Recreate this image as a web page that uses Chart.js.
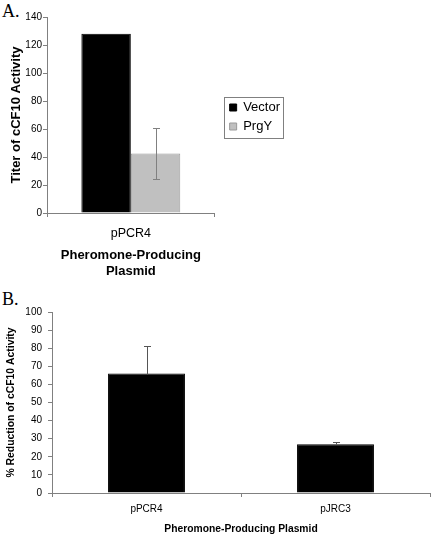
<!DOCTYPE html>
<html><head><meta charset="utf-8">
<script src="https://cdn.jsdelivr.net/npm/chart.js@4.4.1/dist/chart.umd.min.js"></script>
<style>
html,body{margin:0;padding:0;background:#fff;width:432px;height:535px;overflow:hidden;position:relative}
canvas{position:absolute;left:0}
#cA{top:0}
#cB{top:295px}
.lab{position:absolute;left:2px;font-family:'Liberation Serif','Times New Roman',serif;font-size:18px;line-height:18px;color:#000}
</style></head><body>
<div class="lab" style="top:2px">A.</div>
<div class="lab" style="top:290px">B.</div>
<canvas id="cA" width="300" height="285"></canvas>
<canvas id="cB" width="432" height="240"></canvas>
<script>
// ---------- Panel A data ----------
const panelACategories = ['pPCR4'];
const panelASeries = ['Vector', 'PrgY'];
const vectorTiter = [128];
const prgYTiter = [42.5];
const prgYTiterError = [18.5];
const panelAYTickValues = [0, 20, 40, 60, 80, 100, 120, 140];
const panelAYTitle = 'Titer of cCF10 Activity';
const panelAXTitle = ['Pheromone-Producing', 'Plasmid'];

// ---------- Panel B data ----------
const panelBCategories = ['pPCR4', 'pJRC3'];
const reductionPercent = [66, 27];
const reductionError = [15, 1.3];
const panelBYTickValues = [0, 10, 20, 30, 40, 50, 60, 70, 80, 90, 100];
const panelBYTitle = '% Reduction of cCF10 Activity';
const panelBXTitle = 'Pheromone-Producing Plasmid';

const FONT = "'Liberation Sans', Arial, Helvetica, sans-serif";
const AXIS_GRAY = '#808080';

const errorBarPlugin = {
  id: 'errorBars',
  afterDatasetsDraw(chart) {
    const ctx = chart.ctx;
    const yScale = chart.scales.y;
    chart.data.datasets.forEach((ds, di) => {
      if (!ds.errors) return;
      const meta = chart.getDatasetMeta(di);
      meta.data.forEach((bar, i) => {
        const e = ds.errors[i];
        if (e == null) return;
        const v = ds.data[i];
        const x = Math.round(bar.x) + 0.5;
        const yTop = Math.round(yScale.getPixelForValue(v + e)) + 0.5;
        const yBot = Math.round(yScale.getPixelForValue(ds.errorPlusOnly ? v : v - e)) + 0.5;
        const cap = ds.errorCapHalf || 3.5;
        ctx.save();
        ctx.strokeStyle = ds.errorColor || '#808080';
        ctx.lineWidth = 1;
        ctx.beginPath();
        ctx.moveTo(x, yTop); ctx.lineTo(x, yBot);
        ctx.moveTo(x - cap, yTop); ctx.lineTo(x + cap, yTop);
        if (!ds.errorPlusOnly) { ctx.moveTo(x - cap, yBot); ctx.lineTo(x + cap, yBot); }
        ctx.stroke();
        ctx.restore();
      });
    });
  }
};

const legendBoxPlugin = {
  id: 'legendBox',
  afterLayout(chart, args, opts) {
    const lg = chart.legend;
    if (!lg || !opts.enabled) return;
    const w = lg.width;
    lg.left = chart.chartArea.right + opts.dx;
    lg.right = lg.left + w;
    lg.top = chart.chartArea.top + opts.dy;
    lg.bottom = lg.top + 80;
  },
  afterDraw(chart, args, opts) {
    const lg = chart.legend;
    if (!lg || !opts.enabled || !lg.legendHitBoxes || !lg.legendHitBoxes.length) return;
    const hb = lg.legendHitBoxes;
    let l = Infinity, t = Infinity, r = -Infinity, b = -Infinity;
    hb.forEach(h => { l = Math.min(l, h.left); t = Math.min(t, h.top); r = Math.max(r, h.left + h.width); b = Math.max(b, h.top + h.height); });
    const ctx = chart.ctx;
    ctx.save();
    ctx.strokeStyle = AXIS_GRAY;
    ctx.lineWidth = 1;
    ctx.strokeRect(Math.round(l - 6) + 0.5, Math.round(t - 4.5) + 0.5, Math.round(r - l + 9), Math.round(b - t + 9));
    ctx.restore();
  }
};

function yScaleOpts(ticks, title, o) {
  return {
    min: ticks[0], max: ticks[ticks.length - 1],
    afterBuildTicks(scale) { scale.ticks = ticks.map(v => ({ value: v })); },
    afterFit(scale) { scale.width = o.width; },
    grid: { display: true, drawOnChartArea: false, drawTicks: true, tickLength: 4, color: AXIS_GRAY, tickColor: AXIS_GRAY },
    border: { display: true, color: AXIS_GRAY, width: 1 },
    ticks: { color: '#000', font: { family: FONT, size: o.tickSize }, padding: o.tickPad },
    title: { display: true, text: title, color: '#000', font: { family: FONT, size: o.titleSize, weight: 'bold' }, padding: { top: o.titlePad, bottom: 0 } }
  };
}

function xScaleOpts(title, o) {
  return {
    offset: true,
    afterFit(scale) { scale.height = o.height; },
    grid: { display: true, offset: true, drawOnChartArea: false, drawTicks: true, tickLength: 4, color: AXIS_GRAY, tickColor: AXIS_GRAY },
    border: { display: true, color: AXIS_GRAY, width: 1 },
    ticks: { color: '#000', font: { family: FONT, size: o.tickSize }, padding: o.tickPad, maxRotation: 0, autoSkip: false },
    title: { display: true, text: title, color: '#000', font: { family: FONT, size: o.titleSize, weight: 'bold', lineHeight: o.titleLH || 1.2 }, padding: { top: 0, bottom: o.titlePadB } }
  };
}

Chart.defaults.font.family = FONT;

new Chart(document.getElementById('cA'), {
  type: 'bar',
  data: {
    labels: panelACategories,
    datasets: [
      { label: panelASeries[0], data: vectorTiter, backgroundColor: '#000000', borderColor: '#000000', borderWidth: 1,
        categoryPercentage: 0.59, barPercentage: 1.0 },
      { label: panelASeries[1], data: prgYTiter, backgroundColor: '#c0c0c0', borderColor: '#9a9a9a', borderWidth: 1,
        categoryPercentage: 0.59, barPercentage: 1.0,
        errors: prgYTiterError, errorColor: '#808080', errorCapHalf: 3.5 }
    ]
  },
  options: {
    responsive: false, animation: false, devicePixelRatio: 1,
    layout: { padding: { top: 17, left: 0, right: 19, bottom: 0 } },
    scales: {
      x: xScaleOpts(panelAXTitle, { height: 72, tickSize: 12.5, tickPad: 9, titleSize: 13, titleLH: 1.25, titlePadB: 5 }),
      y: yScaleOpts(panelAYTickValues, panelAYTitle, { width: 47, tickSize: 10, tickPad: 1, titleSize: 13, titlePad: 9 })
    },
    plugins: {
      legend: {
        display: true, position: 'right', align: 'start',
        labels: { boxWidth: 7, boxHeight: 7, padding: 6, color: '#000', font: { family: FONT, size: 13 } }
      },
      legendBox: { enabled: true, dx: 9, dy: 78 },
      tooltip: { enabled: false }
    }
  },
  plugins: [errorBarPlugin, legendBoxPlugin]
});

new Chart(document.getElementById('cB'), {
  type: 'bar',
  data: {
    labels: panelBCategories,
    datasets: [
      { label: '% Reduction', data: reductionPercent, backgroundColor: '#000000', borderColor: '#000000', borderWidth: 1,
        categoryPercentage: 1.0, barPercentage: 0.407,
        errors: reductionError, errorPlusOnly: true, errorColor: '#555555', errorCapHalf: 3.5 }
    ]
  },
  options: {
    responsive: false, animation: false, devicePixelRatio: 1,
    layout: { padding: { top: 17, left: 0, right: 2, bottom: 0 } },
    scales: {
      x: xScaleOpts(panelBXTitle, { height: 42, tickSize: 10, tickPad: 6, titleSize: 10.3, titlePadB: 0 }),
      y: yScaleOpts(panelBYTickValues, panelBYTitle, { width: 52, tickSize: 10, tickPad: 6, titleSize: 10.4, titlePad: 5 })
    },
    plugins: {
      legend: { display: false },
      legendBox: { enabled: false },
      tooltip: { enabled: false }
    }
  },
  plugins: [errorBarPlugin, legendBoxPlugin]
});
</script>
</body></html>
